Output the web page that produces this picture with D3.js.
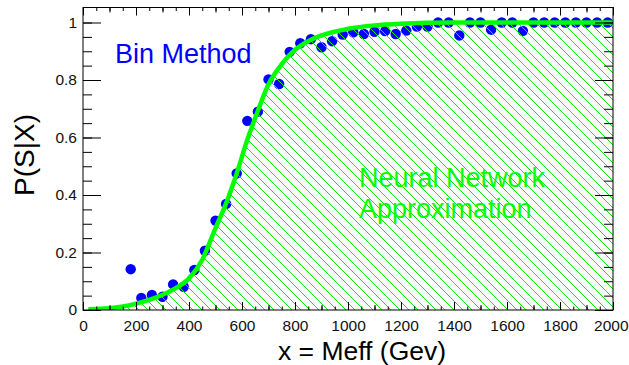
<!DOCTYPE html>
<html>
<head>
<meta charset="utf-8">
<script src="https://cdn.jsdelivr.net/npm/d3@7"></script>
<style>
  html, body { margin: 0; padding: 0; background: #fff; }
  svg { display: block; font-family: "Liberation Sans", Arial, sans-serif; }
</style>
</head>
<body>
<svg id="chart" width="629" height="365"></svg>
<script>
// ---- data ----
const binX = [180,220,260,300,340,380,420,460,500,540,580,620,660,700,740,780,820,860,900,940,
              980,1020,1060,1100,1140,1180,1220,1260,1300,1340,1380,1420,1460,1500,1540,1580,1620,
              1660,1700,1740,1780,1820,1860,1900,1940,1980];
const binP = [0.142,0.042,0.052,0.046,0.089,0.081,0.139,0.206,0.311,0.369,0.475,0.658,0.690,0.802,
              0.786,0.898,0.928,0.942,0.914,0.935,0.958,0.966,0.960,0.968,0.970,0.960,0.972,0.986,
              0.986,1.0,1.0,0.955,1.0,1.0,0.975,1.0,1.0,0.971,1.0,1.0,1.0,1.0,1.0,1.0,1.0,1.0];
const nnX = [20,100,150,200,250,300,350,400,450,500,540,580,620,660,700,750,800,850,900,1000,1100,1200,1300,1400,1600,2000];
const nnP = [0.003,0.006,0.012,0.022,0.035,0.053,0.076,0.11,0.175,0.285,0.371,0.475,0.592,0.693,0.785,0.855,0.905,0.935,0.955,0.978,0.99,0.996,0.999,1.0,1.0,1.0];
const xTickLabels = [0,200,400,600,800,1000,1200,1400,1600,1800,2000];
const yTickLabels = [0,0.2,0.4,0.6,0.8,1];
const xMinor50 = d3.range(0, 2001, 50);
const xMinor100 = d3.range(0, 2001, 100);
const yMinor = d3.range(0, 1.0001, 0.05).map(v => +v.toFixed(2));

// ---- layout ----
const svg = d3.select("#chart");
const L = 83, R = 613, T = 7.5, B = 310;
const x = d3.scaleLinear().domain([0, 2000]).range([L, R]);
const y = d3.scaleLinear().domain([0, 1.0522]).range([B, T]);

const defs = svg.append("defs");
const pat = defs.append("pattern")
  .attr("id", "hatch").attr("patternUnits", "userSpaceOnUse")
  .attr("width", 9).attr("height", 9);
pat.append("path")
  .attr("d", "M-1,-1 L10,10 M-1,8 L1,10 M8,-1 L10,1")
  .attr("stroke", "#00ee00").attr("stroke-width", 1).attr("fill", "none");
defs.append("clipPath").attr("id", "plotclip")
  .append("rect").attr("x", L).attr("y", T).attr("width", R - L).attr("height", B - T);

const plot = svg.append("g").attr("clip-path", "url(#plotclip)");

// points (beneath hatch and curve)
plot.append("g").selectAll("circle")
  .data(binX.map((v, i) => [v, binP[i]]))
  .join("circle")
  .attr("cx", d => x(d[0])).attr("cy", d => y(d[1]))
  .attr("r", 5.2).attr("fill", "#0000ff");

const nnData = nnX.map((v, i) => [v, nnP[i]]);
// hatched area
plot.append("path")
  .datum(nnData)
  .attr("d", d3.area().x(d => x(d[0])).y0(y(0)).y1(d => y(d[1])).curve(d3.curveMonotoneX))
  .attr("fill", "url(#hatch)");
// curve
plot.append("path")
  .datum(nnData)
  .attr("d", d3.line().x(d => x(d[0])).y(d => y(d[1])).curve(d3.curveMonotoneX))
  .attr("fill", "none").attr("stroke", "#00ff00").attr("stroke-width", 4.5)
  .attr("stroke-linejoin", "round");

// ---- axes ----
function styleAxis(g) {
  g.select(".domain").remove();
  g.selectAll("line").attr("stroke", "#000").attr("stroke-width", 1);
}
// bottom
svg.append("g").attr("transform", `translate(0,${B})`)
  .call(d3.axisBottom(x).tickValues(xMinor50).tickSize(-3.5).tickFormat(""))
  .call(styleAxis);
svg.append("g").attr("transform", `translate(0,${B})`)
  .call(d3.axisBottom(x).tickValues(xMinor100).tickSize(-5).tickFormat(""))
  .call(styleAxis);
const xa = svg.append("g").attr("transform", `translate(0,${B})`)
  .call(d3.axisBottom(x).tickValues(xTickLabels).tickSize(-8).tickPadding(10).tickFormat(d3.format("d")))
  .call(styleAxis);
xa.selectAll("text").attr("font-size", 15.5).attr("fill", "#111")
  .attr("font-family", "'Liberation Sans', Arial, sans-serif");
xa.selectAll("text").filter(d => d === 2000).attr("text-anchor", "end").attr("dx", 15);
// top
svg.append("g").attr("transform", `translate(0,${T})`)
  .call(d3.axisTop(x).tickValues(xMinor50).tickSize(-3.5).tickFormat(""))
  .call(styleAxis);
svg.append("g").attr("transform", `translate(0,${T})`)
  .call(d3.axisTop(x).tickValues(xMinor100).tickSize(-5).tickFormat(""))
  .call(styleAxis);
svg.append("g").attr("transform", `translate(0,${T})`)
  .call(d3.axisTop(x).tickValues(xTickLabels).tickSize(-8).tickFormat(""))
  .call(styleAxis);
// left
svg.append("g").attr("transform", `translate(${L},0)`)
  .call(d3.axisLeft(y).tickValues(yMinor).tickSize(-9).tickFormat(""))
  .call(styleAxis);
const ya = svg.append("g").attr("transform", `translate(${L},0)`)
  .call(d3.axisLeft(y).tickValues(yTickLabels).tickSize(-18).tickPadding(6).tickFormat(d => d3.format("")(d)))
  .call(styleAxis);
ya.selectAll("text").attr("font-size", 15.5).attr("fill", "#111")
  .attr("font-family", "'Liberation Sans', Arial, sans-serif");
// right
svg.append("g").attr("transform", `translate(${R},0)`)
  .call(d3.axisRight(y).tickValues(yMinor).tickSize(-9).tickFormat(""))
  .call(styleAxis);
svg.append("g").attr("transform", `translate(${R},0)`)
  .call(d3.axisRight(y).tickValues(yTickLabels).tickSize(-18).tickFormat(""))
  .call(styleAxis);

// frame
svg.append("rect").attr("x", L).attr("y", T).attr("width", R - L).attr("height", B - T)
  .attr("fill", "none").attr("stroke", "#000").attr("stroke-width", 1);

// ---- titles and annotations ----
svg.append("text").attr("x", 115).attr("y", 63)
  .attr("font-size", 27).attr("fill", "#0000ff").text("Bin Method");
svg.append("text").attr("x", 359).attr("y", 187)
  .attr("font-size", 27).attr("fill", "#00ff00").text("Neural Network");
svg.append("text").attr("x", 359).attr("y", 218)
  .attr("font-size", 27).attr("fill", "#00ff00").text("Approximation");

svg.append("text").attr("x", 362).attr("y", 360).attr("text-anchor", "middle")
  .attr("font-size", 26.5).attr("fill", "#000").text("x = Meff (Gev)");
svg.append("text").attr("transform", "translate(34,155) rotate(-90)").attr("text-anchor", "middle")
  .attr("font-size", 28).attr("fill", "#000").text("P(S|X)");
</script>
</body>
</html>
